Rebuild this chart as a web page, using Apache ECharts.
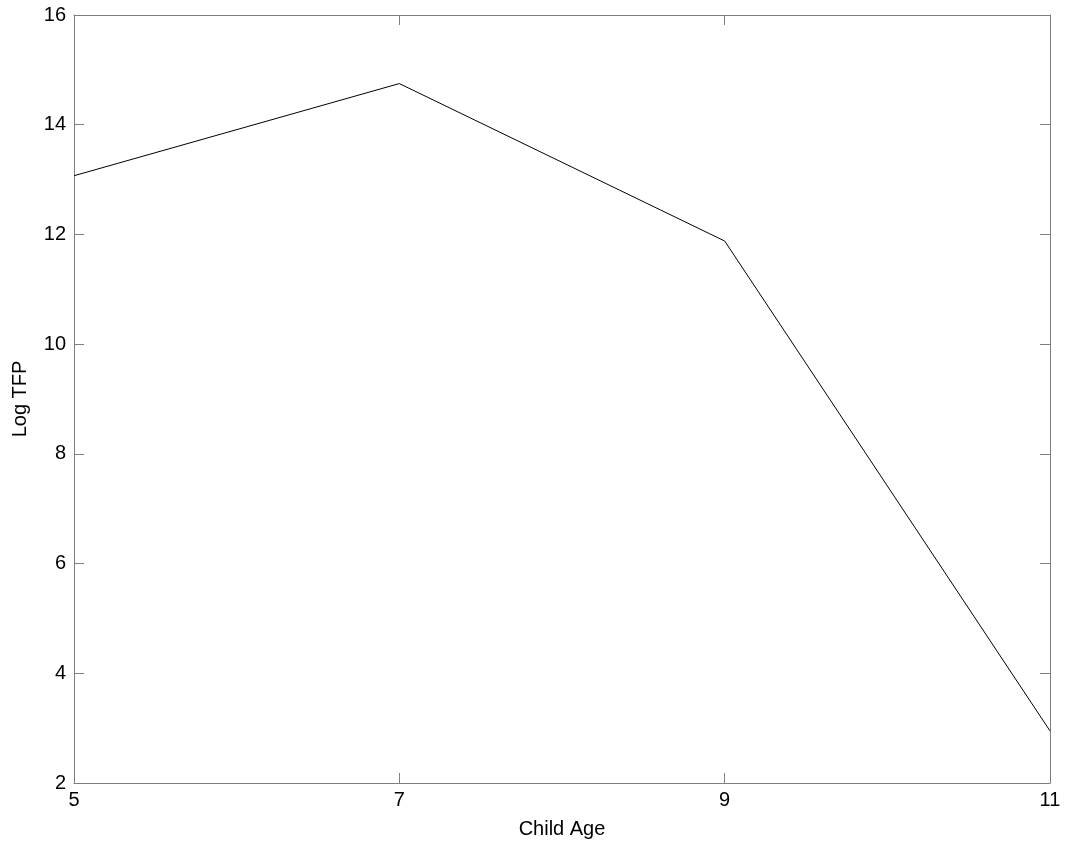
<!DOCTYPE html>
<html>
<head>
<meta charset="utf-8">
<script src="https://cdn.jsdelivr.net/npm/echarts@6/dist/echarts.min.js"></script>
<style>
html, body { margin: 0; padding: 0; background: #fff; }
#chart { width: 1069px; height: 849px; }
</style>
</head>
<body>
<div id="chart"></div>
<script>
// child age vs log TFP
var ages = [5, 7, 9, 11];
var logTfp = [13.07, 14.75, 11.88, 2.95];
var xTicks = [5, 7, 9, 11];
var yTicks = [2, 4, 6, 8, 10, 12, 14, 16];

var chart = echarts.init(document.getElementById('chart'));

var font = 'Liberation Sans, Arial, sans-serif';
var axisColor = '#7f7f7f';

var points = [];
for (var i = 0; i < ages.length; i++) {
	points.push([ages[i], logTfp[i]]);
}

function baseAxis(pos, showLabel) {
	return {
		type: 'value',
		position: pos,
		axisLine: { show: true, onZero: false, lineStyle: { color: axisColor, width: 1 } },
		axisTick: { show: true, inside: true, length: 10, lineStyle: { color: axisColor } },
		axisLabel: { show: showLabel, color: '#000', fontSize: 20, fontFamily: font },
		splitLine: { show: false }
	};
}

var xBottom = baseAxis('bottom', true);
xBottom.min = xTicks[0];
xBottom.max = xTicks[xTicks.length - 1];
xBottom.interval = 2;
xBottom.name = 'Child Age';
xBottom.nameLocation = 'middle';
xBottom.nameGap = 36;
xBottom.nameTextStyle = { color: '#000', fontSize: 20, fontFamily: font };
xBottom.axisLabel.margin = 7;

var xTop = baseAxis('top', false);
xTop.min = xTicks[0];
xTop.max = xTicks[xTicks.length - 1];
xTop.interval = 2;

var yLeft = baseAxis('left', true);
yLeft.min = yTicks[0];
yLeft.max = yTicks[yTicks.length - 1];
yLeft.interval = 2;
yLeft.name = 'Log TFP';
yLeft.nameLocation = 'middle';
yLeft.nameGap = 44;
yLeft.nameTextStyle = { color: '#000', fontSize: 20, fontFamily: font };
yLeft.axisLabel.margin = 8;

var yRight = baseAxis('right', false);
yRight.min = yTicks[0];
yRight.max = yTicks[yTicks.length - 1];
yRight.interval = 2;

chart.setOption({
	animation: false,
	backgroundColor: '#fff',
	grid: { left: 74, right: 19, top: 15, bottom: 66 },
	xAxis: [xBottom, xTop],
	yAxis: [yLeft, yRight],
	series: [{
		type: 'line',
		data: points,
		showSymbol: false,
		lineStyle: { color: '#000', width: 1 }
	}]
});
</script>
</body>
</html>
